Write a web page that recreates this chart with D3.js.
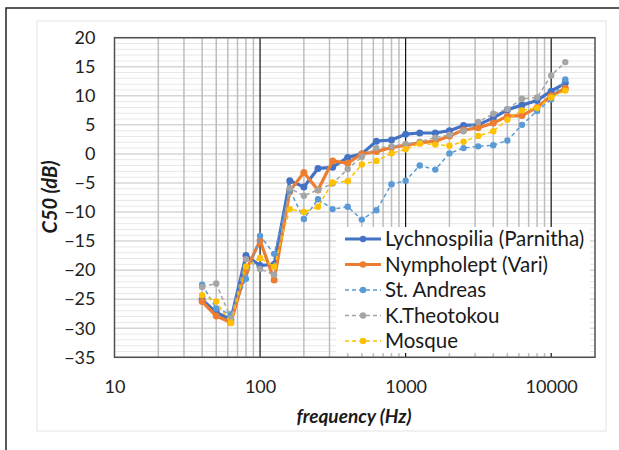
<!DOCTYPE html>
<html>
<head>
<meta charset="utf-8">
<script src="https://cdn.jsdelivr.net/npm/d3@7"></script>
<style>
  body { margin: 0; background: #fff; }
  svg { display: block; font-family: Lato, "Liberation Sans", sans-serif; }
</style>
</head>
<body>
<svg id="chart" width="619" height="450"></svg>
<script>
// 1/3 octave band centre frequencies
var freqs = [40, 50, 63, 80, 100, 125, 160, 200, 250, 315, 400, 500, 630, 800, 1000, 1250, 1600, 2000, 2500, 3150, 4000, 5000, 6300, 8000, 10000, 12500];

var lychnospilia = [-25.1, -27.3, -28.5, -17.5, -19.2, -19.0, -4.6, -5.7, -2.5, -2.3, -0.6, 0.0, 2.2, 2.4, 3.4, 3.6, 3.6, 4.0, 4.9, 5.0, 6.2, 7.6, 8.4, 9.2, 10.8, 12.2];
var nympholept = [-25.4, -27.9, -29.0, -20.1, -14.9, -21.7, -6.4, -3.2, -6.2, -1.2, -1.6, 0.0, 0.4, 1.1, 1.5, 1.9, 2.2, 3.1, 4.1, 4.5, 5.3, 6.5, 6.6, 8.0, 10.0, 11.3];
var stAndreas = [-22.5, -26.6, -27.6, -21.5, -14.1, -17.2, -6.2, -11.2, -7.8, -9.5, -9.1, -11.3, -9.7, -5.2, -4.6, -2.0, -2.7, 0.1, 1.0, 1.3, 1.5, 2.3, 5.0, 7.4, 9.4, 12.8];
var kTheotokou = [-22.9, -22.3, -28.3, -18.1, -19.8, -20.8, -5.9, -7.2, -6.2, -5.1, -2.6, -0.5, 1.0, 1.3, 1.7, 2.1, 2.8, 3.3, 3.9, 5.5, 6.9, 7.7, 9.5, 9.7, 13.5, 15.8];
var mosque = [-24.3, -25.4, -29.1, -19.4, -17.9, -19.4, -9.5, -10.0, -9.1, -4.9, -4.7, -1.8, -1.2, 0.1, 0.8, 1.8, 1.6, 1.4, 2.1, 3.1, 3.9, 5.9, 7.5, 7.9, 9.7, 10.9];

var seriesNames = ['Lychnospilia (Parnitha)', 'Nympholept (Vari)', 'St. Andreas', 'K.Theotokou', 'Mosque'];
var seriesValues = [lychnospilia, nympholept, stAndreas, kTheotokou, mosque];
var seriesColors = ['#4472c4', '#ed7d31', '#5b9bd5', '#a5a5a5', '#ffc000'];
var seriesDashed = [false, false, true, true, true];

var xTicks = [10, 100, 1000, 10000];
var yTicks = d3.range(-35, 21, 5);

var svg = d3.select('#chart');

// outer frame + chart area
svg.append('rect').attr('x', 6).attr('y', 8).attr('width', 640).attr('height', 460)
  .attr('fill', 'none').attr('stroke', '#222').attr('stroke-width', 1.5);
svg.append('rect').attr('x', 37).attr('y', 21).attr('width', 569).attr('height', 410)
  .attr('fill', '#fff').attr('stroke', '#e4e4e4').attr('stroke-width', 1);

var x = d3.scaleLog().domain([10, 20000]).range([114.5, 595]);
var y = d3.scaleLinear().domain([-35, 20]).range([357.3, 37.7]);

var grid = svg.append('g');

// minor horizontal grid every 1 dB
grid.selectAll('line.hmin')
  .data(d3.range(-35, 21, 1).filter(function(d) { return d % 5 !== 0; }))
  .enter().append('line')
  .attr('x1', x.range()[0]).attr('x2', x.range()[1])
  .attr('y1', function(d) { return y(d); }).attr('y2', function(d) { return y(d); })
  .attr('stroke', '#e8e8e8').attr('stroke-width', 1);

grid.selectAll('line.hmaj')
  .data(yTicks)
  .enter().append('line')
  .attr('x1', x.range()[0]).attr('x2', x.range()[1])
  .attr('y1', function(d) { return y(d); }).attr('y2', function(d) { return y(d); })
  .attr('stroke', '#d6d6d6').attr('stroke-width', 1.5);

// vertical log grid
var minorX = x.ticks().filter(function(d) { return xTicks.indexOf(d) < 0 && d < 20000; });
grid.selectAll('line.vmin')
  .data(minorX)
  .enter().append('line')
  .attr('x1', function(d) { return x(d); }).attr('x2', function(d) { return x(d); })
  .attr('y1', y.range()[0]).attr('y2', y.range()[1])
  .attr('stroke', '#bdbdbd').attr('stroke-width', 1.5);

grid.selectAll('line.vmaj')
  .data(xTicks.slice(1))
  .enter().append('line')
  .attr('x1', function(d) { return x(d); }).attr('x2', function(d) { return x(d); })
  .attr('y1', y.range()[0]).attr('y2', y.range()[1])
  .attr('stroke', '#111').attr('stroke-width', 1.2);

// plot border
svg.append('rect')
  .attr('x', x.range()[0]).attr('y', y.range()[1])
  .attr('width', x.range()[1] - x.range()[0]).attr('height', y.range()[0] - y.range()[1])
  .attr('fill', 'none').attr('stroke', '#505050').attr('stroke-width', 1.5);

// axes
var xAxis = svg.append('g')
  .attr('transform', 'translate(0,' + y.range()[0] + ')')
  .call(d3.axisBottom(x).tickValues(xTicks).tickFormat(d3.format('d')).tickSize(0).tickPadding(23));
var yAxis = svg.append('g')
  .attr('transform', 'translate(' + x.range()[0] + ',0)')
  .call(d3.axisLeft(y).tickValues(yTicks).tickFormat(d3.format('d')).tickSize(0).tickPadding(19));

[xAxis, yAxis].forEach(function(a) {
  a.select('.domain').remove();
  a.selectAll('text').attr('font-size', 18).attr('fill', '#222')
    .attr('font-family', 'Lato, "Liberation Sans", sans-serif');
});

// axis titles
svg.append('text')
  .attr('x', 354).attr('y', 423)
  .attr('text-anchor', 'middle')
  .attr('font-size', 19).attr('font-weight', 'bold').attr('font-style', 'italic')
  .attr('fill', '#1a1a1a')
  .text('frequency (Hz)');
svg.append('text')
  .attr('transform', 'translate(57,197) rotate(-90)')
  .attr('text-anchor', 'middle')
  .attr('font-size', 20).attr('font-weight', 'bold').attr('font-style', 'italic')
  .attr('fill', '#1a1a1a')
  .text('C50 (dB)');

// series
var line = d3.line()
  .x(function(d) { return x(d[0]); })
  .y(function(d) { return y(d[1]); });

seriesValues.forEach(function(vals, i) {
  var pts = freqs.map(function(f, j) { return [f, vals[j]]; });
  var g = svg.append('g');
  g.append('path')
    .datum(pts)
    .attr('d', line)
    .attr('fill', 'none')
    .attr('stroke', seriesColors[i])
    .attr('stroke-width', seriesDashed[i] ? 1.5 : 3.2)
    .attr('stroke-dasharray', seriesDashed[i] ? '4,3' : null)
    .attr('stroke-linejoin', 'round');
  g.selectAll('circle')
    .data(pts)
    .enter().append('circle')
    .attr('cx', function(d) { return x(d[0]); })
    .attr('cy', function(d) { return y(d[1]); })
    .attr('r', seriesDashed[i] ? 3.2 : 3.5)
    .attr('fill', seriesColors[i]);
});

// legend
var legend = svg.append('g');
legend.append('rect')
  .attr('x', 336).attr('y', 227).attr('width', 254).attr('height', 126)
  .attr('fill', '#fff');

seriesNames.forEach(function(name, i) {
  var ly = 239 + i * 25.5;
  legend.append('line')
    .attr('x1', 345).attr('x2', 381).attr('y1', ly).attr('y2', ly)
    .attr('stroke', seriesColors[i])
    .attr('stroke-width', seriesDashed[i] ? 1.5 : 3.2)
    .attr('stroke-dasharray', seriesDashed[i] ? '4,3' : null);
  legend.append('circle')
    .attr('cx', 363).attr('cy', ly).attr('r', 3.2)
    .attr('fill', seriesColors[i]);
  legend.append('text')
    .attr('x', 385).attr('y', ly).attr('dy', '0.35em')
    .attr('font-size', 20.5).attr('fill', '#1a1a1a')
    .text(name);
});
</script>
</body>
</html>
